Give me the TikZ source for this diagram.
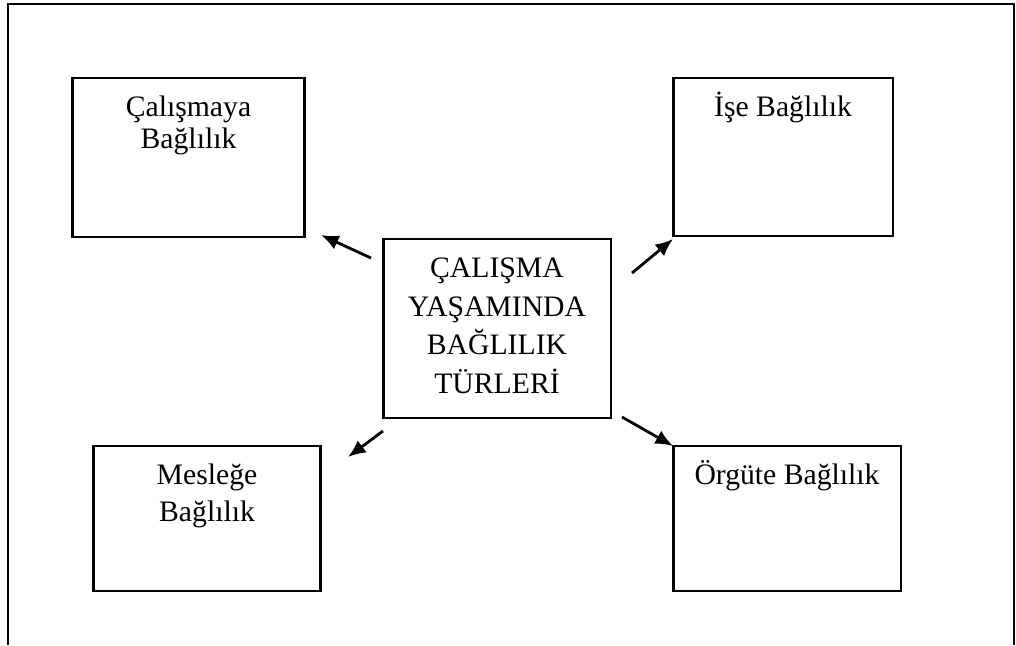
\documentclass[tikz,border=0pt]{standalone}
\usepackage{fontspec}
\setmainfont{Liberation Serif}
\usetikzlibrary{arrows.meta,calc,positioning}
\newlength{\pik}
\setlength{\pik}{0.5669pt}
% box text: width, height, line spacing, text
\newcommand{\kutuyazi}[4]{\parbox[c][#2\pik][t]{#1\pik}{\centering
    \fontsize{16.9pt}{#3\pik}\selectfont\rule{0pt}{38\pik}#4}}
\tikzset{
    >={Latex[length=10pt,width=8.5pt]},
    kutu/.style={
           rectangle,
           draw=black, line width=1.2pt,
           inner sep=0pt},
    ok/.style={
           ->,
           line width=1.6pt}
}

\begin{document}
\begin{tikzpicture}[x=0.02cm,y=-0.02cm]
          \useasboundingbox (0,0) rectangle (1016,645);
          \draw[line width=1.2pt] (8,645) -- (8,4) -- (1014,4) -- (1014,645);
          \node[kutu](merkez) at (497,328.5) {\kutuyazi{228}{179}{39}{ÇALIŞMA\\YAŞAMINDA\\BAĞLILIK\\TÜRLERİ}};
          \node[kutu](calisma) at (188.5,157.5) {\kutuyazi{233}{159}{32}{Çalışmaya\\Bağlılık}};
          \node[kutu](ise) at (783,157) {\kutuyazi{220}{158}{32}{İşe Bağlılık}};
          \node[kutu](meslek) at (207,518.5) {\kutuyazi{228}{145}{38}{Mesleğe\\Bağlılık}};
          \node[kutu](orgut) at (787,518.5) {\kutuyazi{228}{145}{38}{Örgüte Bağlılık}};
          \coordinate (c1) at (371,258);
          \coordinate (c2) at (321,235);
          \coordinate (i1) at (632,273);
          \coordinate (i2) at (673,239);
          \coordinate (m1) at (383,431);
          \coordinate (m2) at (348,457);
          \coordinate (o1) at (622,417);
          \coordinate (o2) at (673,446);
          \draw[ok] (c1) -- (c2);
          \draw[ok] (i1) -- (i2);
          \draw[ok] (m1) -- (m2);
          \draw[ok] (o1) -- (o2);
\end{tikzpicture}
\end{document}
